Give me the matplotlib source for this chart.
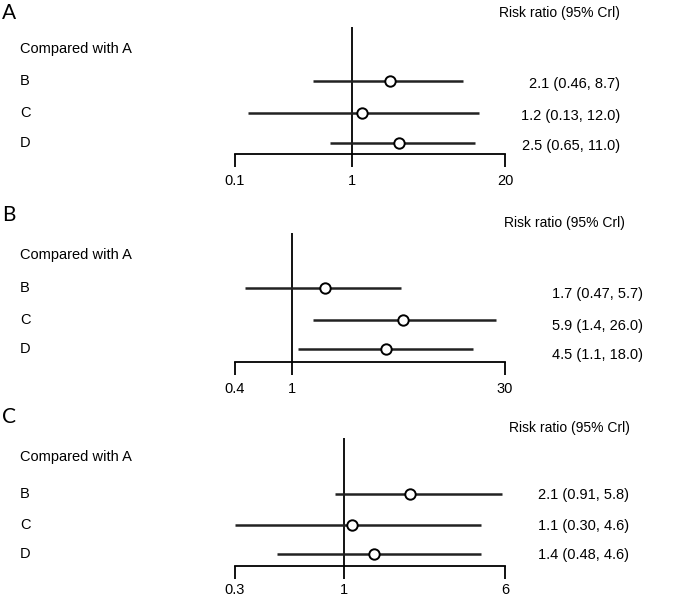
import matplotlib
matplotlib.use('Agg')
import matplotlib.pyplot as plt

plt.rcParams['font.family'] = ['Liberation Sans', 'DejaVu Sans']

W, H = 688, 600

panel_names = ['A', 'B', 'C']
comparisons = ['B', 'C', 'D']
heading = 'Compared with A'
header = 'Risk ratio (95% Crl)'

# risk ratio, lower, upper for B, C, D vs A
rr_A = [2.1, 1.2, 2.5]
lo_A = [0.46, 0.13, 0.65]
hi_A = [8.7, 12.0, 11.0]
labels_A = ['2.1 (0.46, 8.7)', '1.2 (0.13, 12.0)', '2.5 (0.65, 11.0)']
ticks_A = [0.1, 1, 20]

rr_B = [1.7, 5.9, 4.5]
lo_B = [0.47, 1.4, 1.1]
hi_B = [5.7, 26.0, 18.0]
labels_B = ['1.7 (0.47, 5.7)', '5.9 (1.4, 26.0)', '4.5 (1.1, 18.0)']
ticks_B = [0.4, 1, 30]

rr_C = [2.1, 1.1, 1.4]
lo_C = [0.91, 0.30, 0.48]
hi_C = [5.8, 4.6, 4.6]
labels_C = ['2.1 (0.91, 5.8)', '1.1 (0.30, 4.6)', '1.4 (0.48, 4.6)']
ticks_C = [0.3, 1, 6]

panels = [
    (rr_A, lo_A, hi_A, labels_A, ticks_A),
    (rr_B, lo_B, hi_B, labels_B, ticks_B),
    (rr_C, lo_C, hi_C, labels_C, ticks_C),
]

# pixel layout per panel: letter y, header y, header right, axes top, baseline,
# row y's (heading, B, C, D), value text right edge, value offset, tick pad
layout = [
    dict(letter=13, head=13, head_r=620, top=27, base=154,
         rows=[49, 81, 113, 143], val_r=620, val_dy=3, pad=5),
    dict(letter=215, head=223, head_r=625, top=233, base=362,
         rows=[255, 288, 320, 349], val_r=643, val_dy=6, pad=5),
    dict(letter=417, head=428, head_r=630, top=438, base=566,
         rows=[457, 494, 525, 554], val_r=629, val_dy=1, pad=2.5),
]

x_left, x_right = 235, 505

fig = plt.figure(figsize=(W / 100, H / 100), dpi=100)


def fy(py):
    return 1 - py / H


for name, (rr, lo, hi, labs, ticks), lay in zip(panel_names, panels, layout):
    ax = fig.add_axes([x_left / W, fy(lay['base']), (x_right - x_left) / W,
                       (lay['base'] - lay['top']) / H])
    ax.set_xscale('log')
    ax.set_xlim(ticks[0], ticks[-1])
    # y in pixel units so rows line up with the reference
    ax.set_ylim(lay['base'], lay['top'])
    ax.patch.set_alpha(0)
    for s in ['top', 'right', 'left']:
        ax.spines[s].set_visible(False)
    ax.spines['bottom'].set_linewidth(1.3)
    ax.set_yticks([])
    ax.set_xticks(ticks)
    ax.set_xticklabels([f'{t:g}' for t in ticks])
    ax.xaxis.set_minor_locator(plt.NullLocator())
    ax.tick_params(axis='x', direction='out', length=9.5, width=1.3,
                   labelsize=10.5, pad=lay['pad'])
    ax.axvline(1, color='black', lw=1.3)

    for yy, r, l, h in zip(lay['rows'][1:], rr, lo, hi):
        ax.plot([l, h], [yy, yy], color='#222222', lw=1.8, solid_capstyle='butt')
        ax.plot([r], [yy], marker='o', ms=7.5, mfc='white', mec='black',
                mew=1.4, zorder=5)

    fig.text(2 / W, fy(lay['letter']), name, fontsize=15, family='Lato',
             va='center', ha='left')
    fig.text(lay['head_r'] / W, fy(lay['head']), header, fontsize=10,
             va='center', ha='right')
    fig.text(20 / W, fy(lay['rows'][0]), heading, fontsize=10.5,
             va='center', ha='left')
    for yy, c, lab in zip(lay['rows'][1:], comparisons, labs):
        fig.text(20 / W, fy(yy), c, fontsize=10.5, va='center', ha='left')
        fig.text(lay['val_r'] / W, fy(yy + lay['val_dy']), lab, fontsize=10.5,
                 va='center', ha='right')

fig.savefig('out.png', dpi=100)
